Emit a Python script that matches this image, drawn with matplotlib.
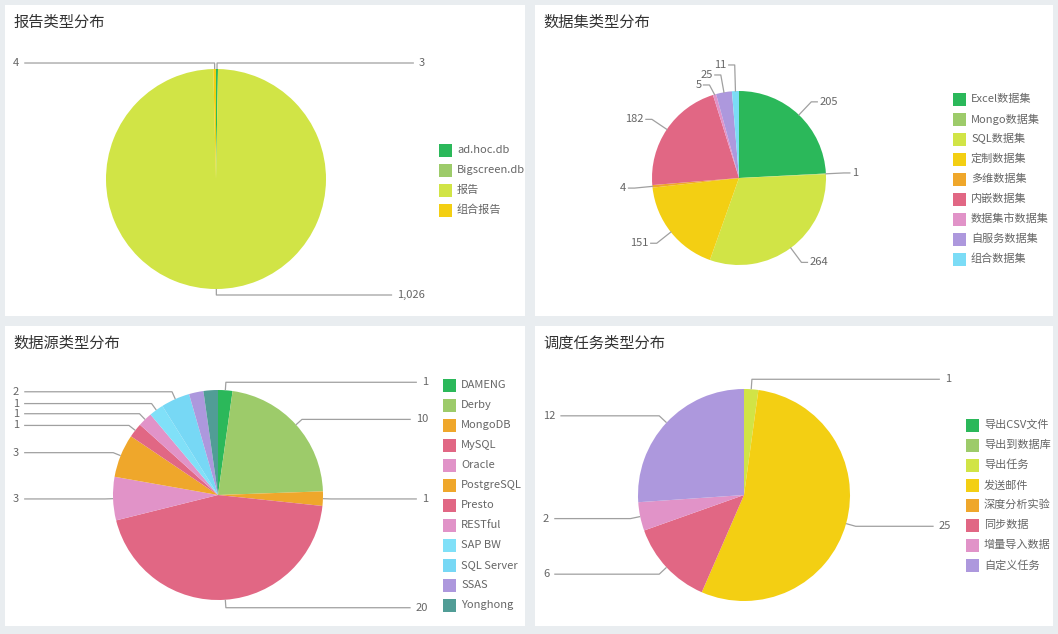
import matplotlib
matplotlib.use("Agg")
import numpy as np
import matplotlib.pyplot as plt
from matplotlib.patches import Rectangle

plt.rcParams['font.family'] = ['Noto Sans CJK SC', 'DejaVu Sans']

# === Daten ===
report_names = ['ad.hoc.db', 'Bigscreen.db', '报告', '组合报告']
report_values = [3, 0, 1026, 4]

dataset_names = ['Excel数据集', 'Mongo数据集', 'SQL数据集', '定制数据集', '多维数据集',
                 '内嵌数据集', '数据集市数据集', '自服务数据集', '组合数据集']
dataset_values = [205, 1, 264, 151, 4, 182, 5, 25, 11]

source_names = ['DAMENG', 'Derby', 'MongoDB', 'MySQL', 'Oracle', 'PostgreSQL', 'Presto',
                'RESTful', 'SAP BW', 'SQL Server', 'SSAS', 'Yonghong']
source_values = [1, 10, 1, 20, 3, 3, 1, 1, 1, 2, 1, 1]
source_hidden = ['SSAS', 'Yonghong']   # Labels ohne Platz

task_names = ['导出CSV文件', '导出到数据库', '导出任务', '发送邮件', '深度分析实验',
              '同步数据', '增量导入数据', '自定义任务']
task_values = [0, 0, 1, 25, 0, 6, 2, 12]

# === Farben ===
GREEN, LGREEN, YGREEN, YELLOW = '#2bb85a', '#9dcb6a', '#d1e446', '#f3cf13'
ORANGE, RED, PINK, LAV, CYAN, TEAL = '#efa72b', '#e16784', '#e193c8', '#ad98dd', '#7bdcf6', '#519d96'

report_colors = [GREEN, LGREEN, YGREEN, YELLOW]
dataset_colors = [GREEN, LGREEN, YGREEN, YELLOW, ORANGE, RED, PINK, LAV, CYAN]
source_colors = [GREEN, LGREEN, ORANGE, RED, PINK, ORANGE, RED, PINK, '#80e0f8', '#77d8f5', LAV, TEAL]
task_colors = [GREEN, LGREEN, YGREEN, YELLOW, ORANGE, RED, PINK, LAV]

W, H = 1058, 634
LINE = '#a0a0a0'
TXT = '#666666'
LBL = 8

fig = plt.figure(figsize=(W / 100, H / 100), dpi=100)
fig.patch.set_facecolor('#e9edf0')
ax = fig.add_axes([0, 0, 1, 1])
ax.set_facecolor('#e9edf0')
ax.set_xlim(0, W)
ax.set_ylim(0, H)
ax.set_autoscale_on(False)
ax.axis('off')
renderer = fig.canvas.get_renderer()


def Y(y):
    return H - y


def panel(x0, y0, x1, y1, title):
    ax.add_patch(Rectangle((x0, Y(y1)), x1 - x0, y1 - y0, facecolor='white', edgecolor='none', zorder=0))
    ax.text(x0 + 8, Y(y0 + 17), title, fontsize=11, color='#333333', va='center', ha='left')


def legend(names, colors, sq_x, y_first, step=20):
    for i, (n, c) in enumerate(zip(names, colors)):
        yc = Y(y_first + i * step)
        ax.add_patch(Rectangle((sq_x, yc - 6.5), 13, 13, facecolor=c, edgecolor='none'))
        ax.text(sq_x + 18, yc, n, fontsize=8, color=TXT, va='center', ha='left')


def draw_pie(values, colors, cx, cy, r):
    vals = [v for v in values if v > 0]
    cols = [c for v, c in zip(values, colors) if v > 0]
    wedges, _ = ax.pie(vals, colors=cols, startangle=90, counterclock=False,
                       center=(cx, Y(cy)), radius=r, frame=True,
                       wedgeprops=dict(linewidth=0))
    ax.set_xlim(0, W)
    ax.set_ylim(0, H)
    ax.axis('off')
    return wedges, vals


def fmt(v):
    return f"{v:,}"


def edge_labels(wedges, vals, names, cx, cy, r, seg, left_x, right_x, hidden=()):
    cy = Y(cy)
    for w, v, n in zip(wedges, vals, names):
        if n in hidden:
            continue
        a = np.deg2rad((w.theta1 + w.theta2) / 2)
        p0 = (cx + r * np.cos(a), cy + r * np.sin(a))
        p1 = (cx + (r + seg) * np.cos(a), cy + (r + seg) * np.sin(a))
        if np.cos(a) >= -1e-9:
            t = ax.text(right_x, p1[1], fmt(v), fontsize=LBL, color=TXT, ha='right', va='center')
            bb = t.get_window_extent(renderer)
            xe = bb.x0 - 5
        else:
            t = ax.text(left_x, p1[1], fmt(v), fontsize=LBL, color=TXT, ha='left', va='center')
            bb = t.get_window_extent(renderer)
            xe = bb.x1 + 5
        ax.plot([p0[0], p1[0], xe], [p0[1], p1[1], p1[1]], color=LINE, lw=0.9, solid_capstyle='butt')


def near_labels(wedges, vals, cx, cy, r, seg=18, seg2=6, gap=10):
    cy = Y(cy)
    items = []
    for w, v in zip(wedges, vals):
        a = np.deg2rad((w.theta1 + w.theta2) / 2)
        p0 = (cx + r * np.cos(a), cy + r * np.sin(a))
        p1 = [cx + (r + seg) * np.cos(a), cy + (r + seg) * np.sin(a)]
        items.append([np.cos(a) >= 0, p0, p1, v])
    # einfache Überlappungsauflösung pro Seite
    for side in (True, False):
        grp = sorted([it for it in items if it[0] == side], key=lambda it: -it[2][1])
        for _ in range(50):
            moved = False
            for i in range(len(grp) - 1):
                d = grp[i][2][1] - grp[i + 1][2][1]
                if d < gap:
                    s = (gap - d) / 2
                    grp[i][2][1] += s
                    grp[i + 1][2][1] -= s
                    moved = True
            if not moved:
                break
    for right, p0, p1, v in items:
        sgn = 1 if right else -1
        p2 = (p1[0] + sgn * seg2, p1[1])
        ax.plot([p0[0], p1[0], p2[0]], [p0[1], p1[1], p2[1]], color=LINE, lw=0.9)
        ax.text(p2[0] + sgn * 2, p2[1], fmt(v), fontsize=LBL, color=TXT,
                ha='left' if right else 'right', va='center')


# === Panel 1: 报告类型分布 ===
panel(5, 5, 525, 316, '报告类型分布')
w, v = draw_pie(report_values, report_colors, 216, 179, 110)
edge_labels(w, v, [n for n, x in zip(report_names, report_values) if x > 0],
            216, 179, 110, 6, 13, 425)
legend(report_names, report_colors, 439, 150)

# === Panel 2: 数据集类型分布 ===
panel(535, 5, 1053, 316, '数据集类型分布')
w, v = draw_pie(dataset_values, dataset_colors, 739, 178, 87)
near_labels(w, v, 739, 178, 87)
legend(dataset_names, dataset_colors, 953, 99)

# === Panel 3: 数据源类型分布 ===
panel(5, 326, 525, 626, '数据源类型分布')
w, v = draw_pie(source_values, source_colors, 218, 495, 105)
edge_labels(w, v, source_names, 218, 495, 105, 8, 13, 428, hidden=source_hidden)
legend(source_names, source_colors, 443, 385)

# === Panel 4: 调度任务类型分布 ===
panel(535, 326, 1053, 626, '调度任务类型分布')
w, v = draw_pie(task_values, task_colors, 744, 495, 106)
edge_labels(w, v, [n for n, x in zip(task_names, task_values) if x > 0],
            744, 495, 106, 10, 543, 951)
legend(task_names, task_colors, 966, 425)

ax.set_xlim(0, W)
ax.set_ylim(0, H)
ax.axis('off')

fig.savefig('out.png', dpi=100, facecolor=fig.get_facecolor())
